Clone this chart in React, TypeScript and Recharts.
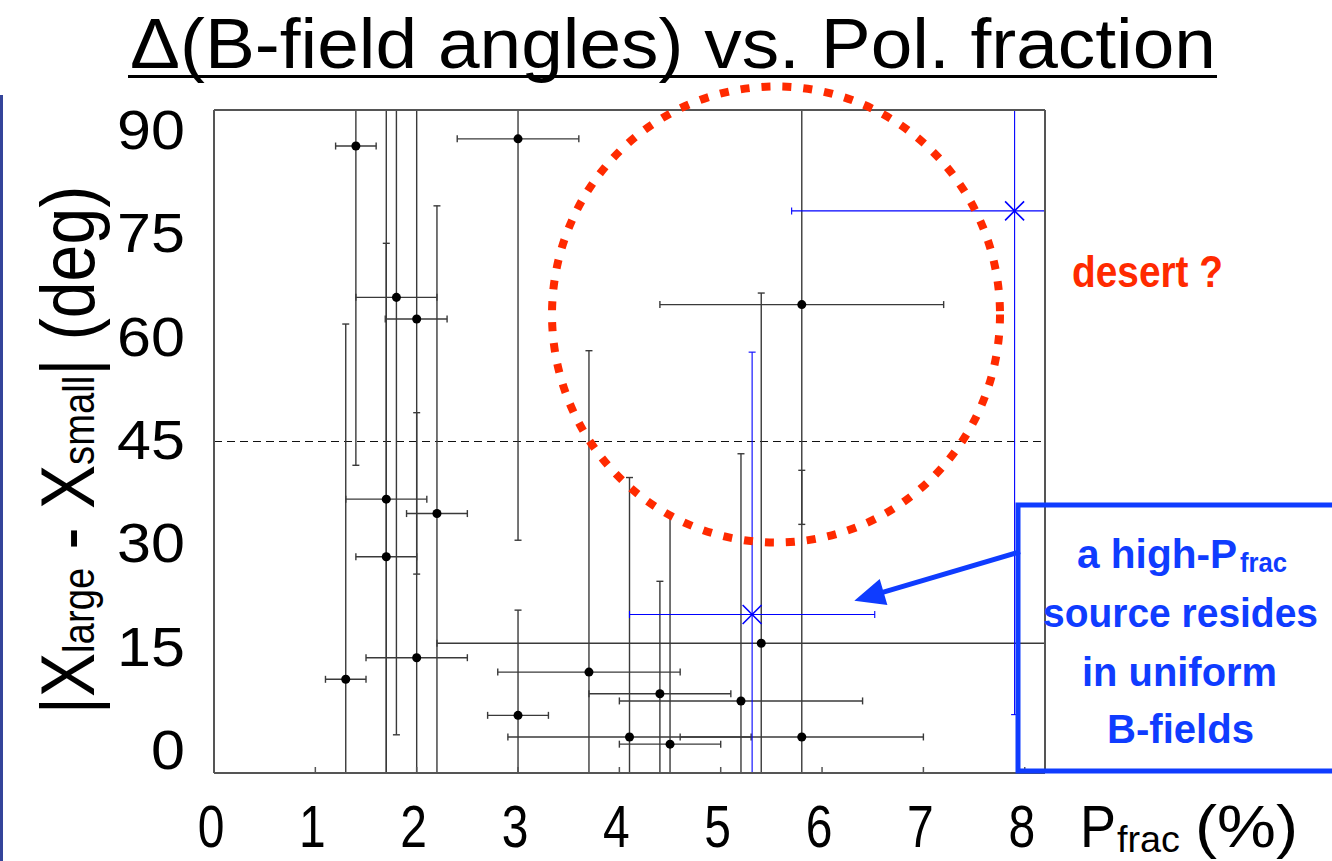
import React from 'react';
import { ScatterChart, Scatter, XAxis, YAxis, ZAxis, ErrorBar, ReferenceLine } from 'recharts';

// Polarization fraction (%) of each source with its lower / upper bounds
// (bounds that run past the frame are given as the frame value, 8.2)
const pfrac = [1.4, 3.0, 1.8, 2.0, 1.7, 1.7, 2.2, 1.3, 2.0, 3.7, 3.0, 4.4, 4.1, 4.5, 5.2, 5.4, 5.8, 5.8];
const pfracLo = [1.2, 2.4, 1.4, 1.69, 1.3, 1.4, 1.9, 1.1, 1.5, 2.8, 2.7, 3.7, 2.9, 4.0, 4.0, 2.2, 4.6, 4.4];
const pfracHi = [1.6, 3.6, 2.2, 2.3, 2.1, 2.0, 2.5, 1.5, 2.5, 4.6, 3.3, 5.1, 5.3, 5.0, 6.4, 8.2, 7.0, 7.2];

// |chi_large - chi_small| (deg) with its lower / upper bounds
// (bounds that run past the frame are given as the frame values, -1 and 91)
const dAngle = [86, 87, 65, 62, 37, 29, 35, 12, 15, 13, 7, 10, 4, 3, 9, 17, 4, 64];
const dAngleLo = [41.7, 31.3, 4.3, 26.6, -1, -1, -1, -1, -1, -1, -1, -1, -1, -1, -1, -1, -1, 33.5];
const dAngleHi = [91, 91, 91, 91, 91, 72.5, 77.7, 61.3, 49.0, 57.6, 21.6, 25.6, 40.0, 35.0, 43.3, 65.6, 41.0, 91];

// Highlighted sources (blue crosses)
const hiPfrac = [5.31, 7.9];
const hiPfracLo = [4.1, 5.7];
const hiPfracHi = [6.52, 8.2];
const hiAngle = [21, 77];
const hiAngleLo = [-1, 7.1];
const hiAngleHi = [57.4, 91];

// Axis ticks
const xTicks = [0, 1, 2, 3, 4, 5, 6, 7, 8];
const yTicks = [0, 15, 30, 45, 60, 75, 90];

const buildRows = (xs: number[], xLo: number[], xHi: number[], ys: number[], yLo: number[], yHi: number[]) =>
  xs.map((x, i) => ({
    x,
    y: ys[i],
    xErr: [x - xLo[i], xHi[i] - x],
    yErr: [ys[i] - yLo[i], yHi[i] - ys[i]],
  }));

const sourceRows = buildRows(pfrac, pfracLo, pfracHi, dAngle, dAngleLo, dAngleHi);
const highRows = buildRows(hiPfrac, hiPfracLo, hiPfracHi, hiAngle, hiAngleLo, hiAngleHi);

const FONT = '"Liberation Sans", Arial, Helvetica, sans-serif';
const RED = '#ff2a00';
const NOTE_BLUE = '#0f3cff';
const FRAME = '#555';

const CrossShape = (props: any) => {
  const { cx, cy } = props;
  const s = 9.5;
  return (
    <path
      d={`M${cx - s},${cy - s}L${cx + s},${cy + s}M${cx - s},${cy + s}L${cx + s},${cy - s}`}
      stroke="#0000ff"
      strokeWidth={1.6}
      fill="none"
    />
  );
};

const YLabelTick = (props: any) => {
  const { x, y, payload } = props;
  return (
    <g transform={`translate(${x},${y}) scale(1.09,1)`}>
      <text x={0} y={0} dy="0.36em" textAnchor="end" fontSize={56} fontFamily={FONT} fill="#000">
        {payload.value}
      </text>
    </g>
  );
};

const XLabelTick = (props: any) => {
  const { x, y, payload } = props;
  return (
    <g transform={`translate(${x - 3},${y}) scale(0.8,1)`}>
      <text x={0} y={0} textAnchor="middle" fontSize={60} fontFamily={FONT} fill="#000">
        {payload.value}
      </text>
    </g>
  );
};

const frameAxis = {
  type: 'number' as const,
  allowDataOverflow: true,
  mirror: true,
  tick: false,
  tickSize: 6,
  axisLine: { stroke: FRAME, strokeWidth: 2 },
  tickLine: { stroke: FRAME, strokeWidth: 1.5 },
};

export default function App() {
  return (
    <div style={{ position: 'absolute', left: 0, top: 0, width: 1332, height: 861, background: '#fff' }}>
      <ScatterChart
        width={1332}
        height={861}
        margin={{ top: 110, right: 287, bottom: 87, left: 213 }}
      >
        {/* bottom axis: inward ticks on the frame, labels below */}
        <XAxis
          xAxisId="main"
          dataKey="x"
          type="number"
          domain={[0, 8.2]}
          ticks={xTicks}
          interval={0}
          allowDataOverflow
          height={1}
          tickSize={-6}
          tickMargin={80}
          axisLine={{ stroke: FRAME, strokeWidth: 2 }}
          tickLine={{ stroke: FRAME, strokeWidth: 1.5 }}
          tick={<XLabelTick />}
        />
        {/* frame: top / left / right with inward ticks */}
        <XAxis xAxisId="top" orientation="top" domain={[0, 8.2]} ticks={xTicks} height={1} {...frameAxis} />
        <YAxis yAxisId="main" dataKey="y" domain={[-1, 91]} ticks={yTicks} width={1} {...frameAxis} />
        <YAxis yAxisId="right" orientation="right" domain={[-1, 91]} ticks={yTicks} width={1} {...frameAxis} />
        <YAxis
          yAxisId="ylabels"
          type="number"
          domain={[-3.484, 92.758]}
          ticks={yTicks}
          interval={0}
          allowDataOverflow
          width={1}
          axisLine={false}
          tickLine={false}
          tickMargin={23}
          tick={<YLabelTick />}
        />
        <ZAxis range={[80, 80]} />

        <ReferenceLine
          xAxisId="main"
          yAxisId="main"
          y={45}
          stroke="#111"
          strokeWidth={1.2}
          strokeDasharray="8 5"
        />

        <Scatter
          data={sourceRows}
          xAxisId="main"
          yAxisId="main"
          fill="#000"
          shape="circle"
          isAnimationActive={false}
        >
          <ErrorBar dataKey="yErr" direction="y" width={3.5} stroke="#3a3a3a" strokeWidth={1.4} isAnimationActive={false} />
          <ErrorBar dataKey="xErr" direction="x" width={3.5} stroke="#3a3a3a" strokeWidth={1.4} isAnimationActive={false} />
        </Scatter>

        <Scatter
          data={highRows}
          xAxisId="main"
          yAxisId="main"
          fill="#0000ff"
          shape={<CrossShape />}
          isAnimationActive={false}
        >
          <ErrorBar dataKey="yErr" direction="y" width={3.5} stroke="#0000ff" strokeWidth={1.1} isAnimationActive={false} />
          <ErrorBar dataKey="xErr" direction="x" width={3.5} stroke="#0000ff" strokeWidth={1.1} isAnimationActive={false} />
        </Scatter>
      </ScatterChart>

      <svg
        width={1332}
        height={861}
        style={{ position: 'absolute', left: 0, top: 0, pointerEvents: 'none' }}
      >
        {/* slide edge */}
        <rect x={0} y={95} width={3} height={766} fill="#34449a" />

        {/* title */}
        <text
          x={130}
          y={68}
          fontSize={70}
          fontFamily={FONT}
          fill="#000"
          textLength={1086}
          lengthAdjust="spacingAndGlyphs"
        >
          Δ(B-field angles) vs. Pol. fraction
        </text>
        <rect x={128} y={75} width={1089} height={3} fill="#000" />

        {/* y-axis title */}
        <g transform="translate(94,450) rotate(-90) scale(0.87,1)">
          <text textAnchor="middle" fontSize={76} fontFamily={FONT} fill="#000">
            |X<tspan fontSize={44}>large</tspan> - X<tspan fontSize={44}>small</tspan>| (deg)
          </text>
        </g>

        {/* x-axis title */}
        <text x={1080} y={847} fontSize={60} fontFamily={FONT} fill="#000" textLength={36} lengthAdjust="spacingAndGlyphs">
          P
        </text>
        <text x={1117} y={852} fontSize={36} fontFamily={FONT} fill="#000" textLength={63} lengthAdjust="spacingAndGlyphs">
          frac
        </text>
        <text x={1195} y={847} fontSize={60} fontFamily={FONT} fill="#000" textLength={103} lengthAdjust="spacingAndGlyphs">
          (%)
        </text>

        {/* dotted region marker */}
        <ellipse
          cx={776}
          cy={314.5}
          rx={224}
          ry={228}
          fill="none"
          stroke={RED}
          strokeWidth={8}
          strokeDasharray="9 12"
        />
        <text
          x={1072}
          y={287}
          fontSize={45}
          fontWeight="bold"
          fontFamily={FONT}
          fill={RED}
          textLength={151}
          lengthAdjust="spacingAndGlyphs"
        >
          desert ?
        </text>

        {/* callout box */}
        <rect x={1018} y={505} width={330} height={266} fill="none" stroke={NOTE_BLUE} strokeWidth={5} />
        <line x1={1020} y1={551.7} x2={882.6} y2={592.3} stroke={NOTE_BLUE} strokeWidth={5} />
        <polygon points="856.7,600 879.2,580.8 886,603.8" fill={NOTE_BLUE} stroke={NOTE_BLUE} strokeWidth={2} />

        <g fontFamily={FONT} fontWeight="bold" fill={NOTE_BLUE}>
          <text x={1077} y={568} fontSize={41} textLength={160} lengthAdjust="spacingAndGlyphs">
            a high-P
          </text>
          <text x={1240} y={572} fontSize={27} textLength={47} lengthAdjust="spacingAndGlyphs">
            frac
          </text>
          <text x={1043} y={627} fontSize={41} textLength={275} lengthAdjust="spacingAndGlyphs">
            source resides
          </text>
          <text x={1082} y={686} fontSize={41} textLength={195} lengthAdjust="spacingAndGlyphs">
            in uniform
          </text>
          <text x={1107} y={743} fontSize={41} textLength={147} lengthAdjust="spacingAndGlyphs">
            B-fields
          </text>
        </g>
      </svg>
    </div>
  );
}
